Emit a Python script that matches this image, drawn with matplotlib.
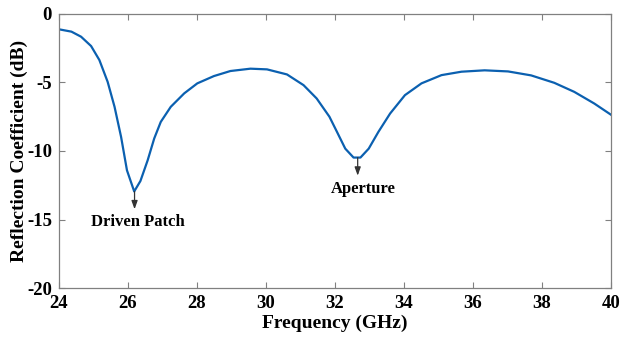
import numpy as np
import matplotlib
matplotlib.use("Agg")
import matplotlib.pyplot as plt

freq_ghz = [24.0, 24.36, 24.64, 24.93, 25.17, 25.41, 25.61, 25.8, 25.97, 26.18,
            26.36, 26.57, 26.76, 26.95, 27.24, 27.63, 28.01, 28.49, 28.97, 29.55,
            30.03, 30.61, 31.09, 31.47, 31.84, 32.06, 32.3, 32.54, 32.74, 32.98,
            33.26, 33.6, 34.03, 34.51, 35.09, 35.67, 36.34, 37.02, 37.69, 38.36,
            38.94, 39.52, 40.0]
s11_db = [-1.13, -1.30, -1.67, -2.35, -3.37, -4.96, -6.78, -8.98, -11.41, -12.95,
          -12.19, -10.68, -9.09, -7.88, -6.78, -5.8, -5.07, -4.54, -4.17, -4.0,
          -4.05, -4.42, -5.2, -6.17, -7.5, -8.61, -9.83, -10.48, -10.48, -9.83,
          -8.61, -7.27, -5.93, -5.07, -4.47, -4.22, -4.12, -4.2, -4.49, -5.03,
          -5.69, -6.54, -7.35]

XTICKS = [24, 26, 28, 30, 32, 34, 36, 38, 40]
YTICKS = [0, -5, -10, -15, -20]

# resonance markers: (label, freq, dip level, arrow tip, text x, text y)
MARKERS = [("Driven Patch", 26.19, -12.95, -14.25, 26.29, -15.2),
           ("Aperture",     32.66, -10.48, -11.8, 32.82, -12.75)]

plt.rcParams["font.family"] = ["Liberation Serif", "DejaVu Serif"]
plt.rcParams["font.weight"] = "bold"
plt.rcParams["axes.unicode_minus"] = False

fig = plt.figure(figsize=(6.2, 3.37), dpi=100)
ax = fig.add_axes([0.0952, 0.145, 0.890, 0.814])

ax.plot(freq_ghz, s11_db, color="#0b60b0", linewidth=1.6)

for name, fx, dip, tip, tx, ty in MARKERS:
    ax.annotate("", xy=(fx, tip), xytext=(fx, dip),
                arrowprops=dict(arrowstyle="-|>,head_length=0.5,head_width=0.18",
                                color="#333333", lw=0.9, shrinkA=0, shrinkB=0))
    ax.text(tx, ty, name, ha="center", va="center", fontsize=12, fontweight="bold")

ax.set_xlim(24, 40)
ax.set_ylim(-20, 0)
ax.set_xticks(XTICKS)
ax.set_yticks(YTICKS)
ax.tick_params(direction="in", top=True, right=True, length=4, width=0.8,
               color="#808080", labelsize=13.5)
ax.tick_params(axis="x", pad=5)
ax.tick_params(axis="y", pad=5)
for lbl in ax.get_xticklabels() + ax.get_yticklabels():
    lbl.set_fontweight("bold")
for s in ax.spines.values():
    s.set_color("#808080")
    s.set_linewidth(0.9)

ax.set_xlabel("Frequency (GHz)", fontsize=14, fontweight="bold", labelpad=2)
ax.set_ylabel("Reflection Coefficient (dB)", fontsize=14, fontweight="bold", labelpad=-1)

fig.savefig("out.png", dpi=100)
